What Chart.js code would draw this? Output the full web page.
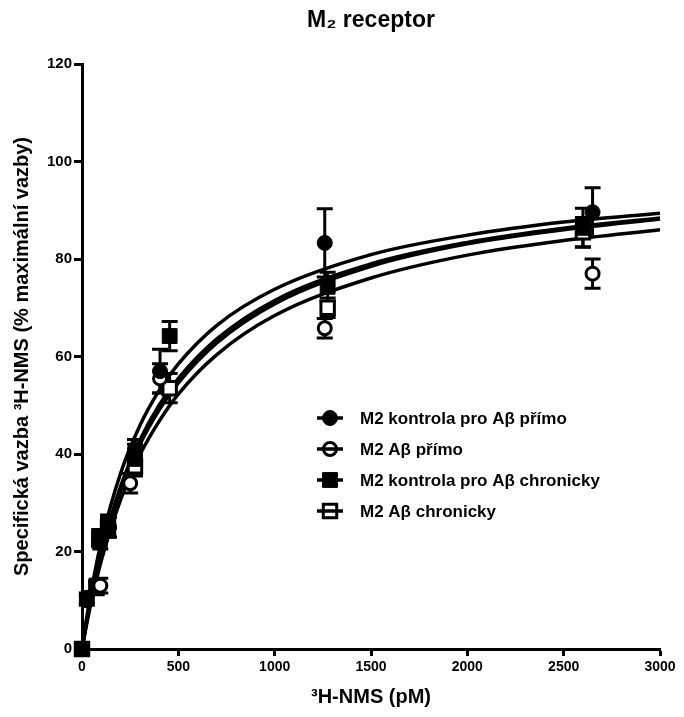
<!DOCTYPE html>
<html>
<head>
<meta charset="utf-8">
<script src="https://cdn.jsdelivr.net/npm/chart.js@4/dist/chart.umd.min.js"></script>
<style>
  body { margin: 0; background: #fff; }
</style>
</head>
<body>
<canvas id="vazba-chart" width="684" height="717"></canvas>
<script>
// Názvy sérií (legenda)
var nazvy = ["M2 kontrola pro Aβ přímo", "M2 Aβ přímo", "M2 kontrola pro Aβ chronicky", "M2 Aβ chronicky"];

// Naměřené body – koncentrace 3H-NMS (pM), vazba (%) a chyba (SEM)
var xKontrolaPrimo = [0, 25, 95, 140, 275, 405, 1260, 2650];
var yKontrolaPrimo = [0, 10.5, 22, 25, 41, 57, 83.3, 89.6];
var eKontrolaPrimo = [0, 1, 1.5, 2, 2, 4.5, 7, 5];

var xAbPrimo = [0, 25, 95, 140, 250, 405, 1260, 2650];
var yAbPrimo = [0, 10, 13, 25, 34, 55.5, 65.8, 77];
var eAbPrimo = [0, 1, 1.5, 2, 2, 3, 2, 3];

var xKontrolaChron = [0, 75, 90, 135, 275, 455, 1275, 2600];
var yKontrolaChron = [0, 13, 23, 25.5, 39, 64.2, 74.3, 86.4];
var eKontrolaChron = [0, 1, 1.5, 2, 3, 3, 3, 4];

var xAbChron = [0, 75, 90, 135, 275, 455, 1275, 2600];
var yAbChron = [0, 12.5, 22.5, 25, 37.5, 53.5, 70, 85.5];
var eAbChron = [0, 1, 1.5, 2, 2, 3, 2, 3];

// Proložené křivky
var xKrivka = [0, 25, 50, 100, 200, 300, 400, 500, 700, 1000, 1500, 2000, 2500, 3000];
var kKontrolaPrimo = [0, 6.6, 12.3, 22.0, 36.0, 45.8, 53.0, 58.5, 66.4, 73.8, 80.9, 84.9, 87.6, 89.4];
var kKontrolaChron = [0, 5.9, 11.1, 20.0, 33.3, 42.8, 50.0, 55.5, 63.6, 71.5, 79.0, 83.4, 86.3, 88.4];
var kAbChron = [0, 5.6, 10.8, 19.3, 32.4, 41.9, 49.0, 54.6, 62.8, 70.8, 78.5, 83.1, 86.0, 88.2];
var kAbPrimo = [0, 5.3, 10.0, 18.1, 30.6, 39.8, 46.7, 52.3, 60.4, 68.4, 76.1, 80.8, 83.8, 86.0];

// Popisky os
var xTickKrok = 500;
var yTickKrok = 20;

var pismo = '"Liberation Sans", Arial, sans-serif';

function body(xs, ys) {
  return xs.map(function (x, i) { return { x: x, y: ys[i] }; });
}

function krivka(ys) {
  return {
    data: body(xKrivka, ys),
    showLine: true,
    borderColor: "#000",
    borderWidth: 3.5,
    pointRadius: 0,
    cubicInterpolationMode: "monotone",
    clip: false,
    order: 10
  };
}

var serie = [
  { label: nazvy[0], data: body(xKontrolaPrimo, yKontrolaPrimo), chyby: eKontrolaPrimo, legendaVypln: "#000",
    pointStyle: "circle", pointRadius: 7.5, pointBackgroundColor: "#000", pointBorderColor: "#000", pointBorderWidth: 1 },
  { label: nazvy[1], data: body(xAbPrimo, yAbPrimo), chyby: eAbPrimo, legendaVypln: "rgba(0,0,0,0)",
    pointStyle: "circle", pointRadius: 6.5, pointBackgroundColor: "#fff", pointBorderColor: "#000", pointBorderWidth: 3 },
  { label: nazvy[2], data: body(xKontrolaChron, yKontrolaChron), chyby: eKontrolaChron, legendaVypln: "#000",
    pointStyle: "rect", pointRadius: 10.5, pointBackgroundColor: "#000", pointBorderColor: "#000", pointBorderWidth: 1 },
  { label: nazvy[3], data: body(xAbChron, yAbChron), chyby: eAbChron, legendaVypln: "rgba(0,0,0,0)",
    pointStyle: "rect", pointRadius: 9.5, pointBackgroundColor: "#fff", pointBorderColor: "#000", pointBorderWidth: 3 }
];
serie.forEach(function (s) {
  s.showLine = false;
  s.clip = false;
  s.order = 1;
});

// Chybové úsečky (kresleno pod body)
var chybyPlugin = {
  id: "chyby",
  beforeDatasetsDraw: function (chart) {
    var c = chart.ctx;
    var xs = chart.scales.x, ys = chart.scales.y;
    c.save();
    c.strokeStyle = "#000";
    c.lineWidth = 3;
    chart.data.datasets.forEach(function (ds) {
      if (!ds.chyby) return;
      ds.data.forEach(function (p, i) {
        var e = ds.chyby[i];
        if (!e) return;
        var px = xs.getPixelForValue(p.x);
        var top = ys.getPixelForValue(p.y + e);
        var bot = ys.getPixelForValue(p.y - e);
        c.beginPath();
        c.moveTo(px, top); c.lineTo(px, bot);
        c.moveTo(px - 8, top); c.lineTo(px + 8, top);
        c.moveTo(px - 8, bot); c.lineTo(px + 8, bot);
        c.stroke();
      });
    });
    c.restore();
  }
};

// Legenda uvnitř grafu
var legendaPlugin = {
  id: "legenda",
  afterDraw: function (chart) {
    var c = chart.ctx;
    var radky = [418, 449, 480, 511];
    c.save();
    c.font = "bold 17px " + pismo;
    c.textBaseline = "middle";
    serie.forEach(function (s, i) {
      var y = radky[i];
      c.strokeStyle = "#000";
      c.lineWidth = 3.5;
      c.beginPath();
      c.moveTo(317, y); c.lineTo(343, y);
      c.stroke();
      c.fillStyle = s.legendaVypln;
      c.lineWidth = s.pointBorderWidth;
      Chart.helpers.drawPoint(c, { pointStyle: s.pointStyle, radius: s.pointRadius, rotation: 0, borderWidth: s.pointBorderWidth }, 330, y);
      c.fillStyle = "#000";
      c.fillText(s.label, 360, y + 1);
    });
    c.restore();
  }
};

var ctx = document.getElementById("vazba-chart").getContext("2d");

var chart = new Chart(ctx, {
  type: "scatter",
  data: {
    datasets: serie.concat([
      krivka(kKontrolaPrimo),
      krivka(kKontrolaChron),
      krivka(kAbChron),
      krivka(kAbPrimo)
    ])
  },
  options: {
    responsive: false,
    animation: false,
    layout: { padding: { left: 0, right: 24, top: 0, bottom: 0 } },
    plugins: {
      legend: { display: false },
      tooltip: { enabled: false },
      title: {
        display: true,
        text: "M₂ receptor",
        fullSize: false,
        color: "#000",
        font: { family: pismo, size: 23, weight: "bold" },
        padding: { top: 7, bottom: 29.4 }
      }
    },
    scales: {
      x: {
        type: "linear",
        min: 0,
        max: 3000,
        ticks: { stepSize: xTickKrok, color: "#000", padding: 3, maxRotation: 0,
          font: { family: pismo, size: 14, weight: "bold" },
          callback: function (v) { return String(v); } },
        grid: { drawOnChartArea: false, tickLength: 7, tickWidth: 3, tickColor: "#000" },
        border: { color: "#000", width: 3 },
        title: { display: true, text: "³H-NMS (pM)", color: "#000",
          font: { family: pismo, size: 20, weight: "bold" }, padding: { top: 0, bottom: 8 } },
        afterFit: function (s) { s.height = 68; }
      },
      y: {
        min: 0,
        max: 120,
        ticks: { stepSize: yTickKrok, color: "#000", padding: 2,
          font: { family: pismo, size: 15, weight: "bold" },
          callback: function (v) { return String(v); } },
        grid: { drawOnChartArea: false, tickLength: 8, tickWidth: 3, tickColor: "#000" },
        border: { color: "#000", width: 3 },
        title: { display: true, text: "Specifická vazba ³H-NMS (% maximální vazby)", color: "#000",
          font: { family: pismo, size: 20, weight: "bold" }, padding: { top: 10, bottom: 0 } },
        afterFit: function (s) { s.width = 82; }
      }
    }
  },
  plugins: [chybyPlugin, legendaPlugin]
});
</script>
</body>
</html>
